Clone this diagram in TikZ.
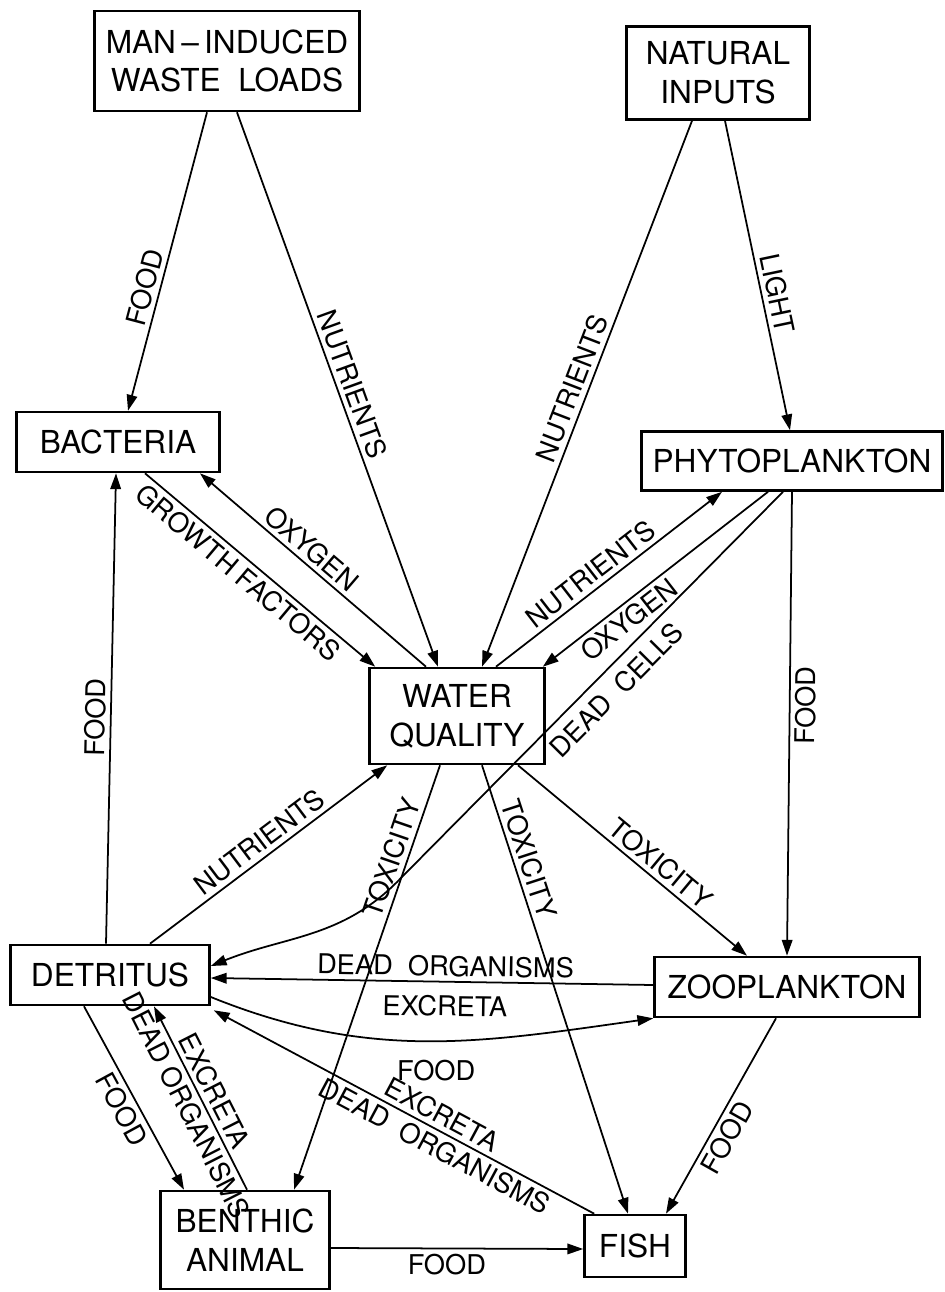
\documentclass[tikz,border=0pt]{standalone}
\usepackage{fontspec}
\setmainfont{TeX Gyre Heros}
\usetikzlibrary{arrows.meta, calc}

\begin{document}
\begin{tikzpicture}[
    x=0.02cm, y=-0.02cm,
    box/.style={rectangle, draw, line width=1.5pt, align=center, inner sep=0pt, font=\fontsize{18}{22}\selectfont},
    lab/.style={font=\fontsize{15.5}{18}\selectfont, inner sep=2.5pt, sloped},
    flat/.style={font=\fontsize{15.5}{18}\selectfont, inner sep=2.5pt},
    arr/.style={-{Triangle[length=9pt,width=6pt]}, line width=1pt}
]

\useasboundingbox (0,0) rectangle (945,1292);

\node[box, minimum width=5.3cm, minimum height=2cm] (waste) at (227,61) {MAN\,--\,INDUCED\\WASTE\ \ LOADS};

\node[box, minimum width=3.66cm, minimum height=1.86cm] (natural) at (718,73) {NATURAL\\INPUTS};

\node[box, minimum width=4.06cm, minimum height=1.2cm] (bact) at (118,442) {BACTERIA};

\node[box, minimum width=6.02cm, minimum height=1.18cm] (phyto) at (792,461) {PHYTOPLANKTON};

\node[box, minimum width=3.5cm, minimum height=1.92cm] (wq) at (457,716) {WATER\\QUALITY};

\node[box, minimum width=3.98cm, minimum height=1.2cm] (detr) at (110,975) {DETRITUS};

\node[box, minimum width=5.3cm, minimum height=1.2cm] (zoo) at (787,987) {ZOOPLANKTON};

\node[box, minimum width=3.38cm, minimum height=1.96cm] (benth) at (245,1240) {BENTHIC\\ANIMAL};

\node[box, minimum width=2.02cm, minimum height=1.24cm] (fish) at (635,1246) {FISH};

\coordinate (bend) at (397,882);

% Inputs
\draw[arr] ($(waste.south)+(-20,0)$) -- node[lab, above, pos=0.6] {FOOD} ($(bact.north)+(10,0)$);
\draw[arr] ($(waste.south)+(10,0)$) -- node[lab, above, pos=0.5] {NUTRIENTS} ($(wq.north)+(-19,0)$);
\draw[arr] ($(natural.south)+(-26,0)$) -- node[lab, above, pos=0.5] {NUTRIENTS} ($(wq.north)+(25,0)$);
\draw[arr] ($(natural.south)+(7,0)$) -- node[lab, above, pos=0.57] {LIGHT} ($(phyto.north)+(-2,0)$);

% Bacteria and phytoplankton with water quality
\draw[arr] ($(bact.south)+(27,0)$) -- node[lab, below, pos=0.45] {GROWTH FACTORS} ($(wq.north west)+(7,0)$);
\draw[arr] ($(wq.north)+(-31,0)$) -- node[lab, above, pos=0.55] {OXYGEN} ($(bact.south)+(82,0)$);
\draw[arr] ($(wq.north)+(39,0)$) -- node[lab, above, pos=0.46] {NUTRIENTS} ($(phyto.south)+(-70,0)$);
\draw[arr] ($(phyto.south)+(-24,0)$) -- node[lab, below, pos=0.66] {OXYGEN} ($(wq.north east)+(-3,0)$);
\draw[arr] ($(phyto.south)+(-9,0)$) -- node[lab, below=3pt, pos=0.47] {DEAD\ \ CELLS} (bend) to[out=225, in=22] ($(detr.east)+(0,-9)$);
\draw[arr] (phyto.south) -- node[lab, below, pos=0.46] {FOOD} (zoo.north);

% Toxicity
\draw[arr] ($(wq.south)+(61,0)$) -- node[lab, above, pos=0.58] {TOXICITY} ($(zoo.north)+(-40,0)$);
\draw[arr] ($(wq.south)+(25,0)$) -- node[lab, above, pos=0.22] {TOXICITY} ($(fish.north)+(-7,0)$);
\draw[arr] ($(wq.south)+(-17,0)$) -- node[lab, above, pos=0.23] {TOXICITY} ($(benth.north)+(49,0)$);

% Detritus
\draw[arr] ($(detr.north)+(40,0)$) -- node[lab, above, pos=0.5] {NUTRIENTS} ($(wq.south west)+(19,0)$);
\draw[arr] ($(detr.north)+(-4,0)$) -- node[lab, above, pos=0.48] {FOOD} ($(bact.south)+(-2,0)$);
\draw[arr] ($(zoo.west)+(0,-2)$) -- node[lab, above, pos=0.47] {DEAD\ \ ORGANISMS} node[lab, below=5pt, pos=0.47] {EXCRETA} ($(detr.east)+(0,3)$);
\draw[arr] ($(detr.east)+(0,22)$) to[out=-22, in=188] node[flat, below=8pt, pos=0.52] {FOOD} (zoo.south west);
\draw[arr] ($(fish.north west)+(11,0)$) -- node[lab, above, pos=0.42] {EXCRETA} node[lab, below, pos=0.4] {DEAD\ \ ORGANISMS} ($(detr.south east)+(3,4)$);
\draw[arr] ($(detr.south)+(-26,0)$) -- node[lab, below, pos=0.52] {FOOD} ($(benth.north)+(-61,0)$);
\draw[arr] ($(benth.north)+(2,0)$) -- node[lab, above, pos=0.5] {EXCRETA} node[lab, below, pos=0.5] {DEAD ORGANISMS} ($(detr.south)+(44,0)$);

% Food to fish
\draw[arr] ($(zoo.south)+(-11,0)$) -- node[lab, below, pos=0.57] {FOOD} ($(fish.north)+(31,0)$);
\draw[arr] ($(benth.east)+(0,8)$) -- node[flat, below, pos=0.46] {FOOD} ($(fish.west)+(0,3)$);

\end{tikzpicture}
\end{document}
